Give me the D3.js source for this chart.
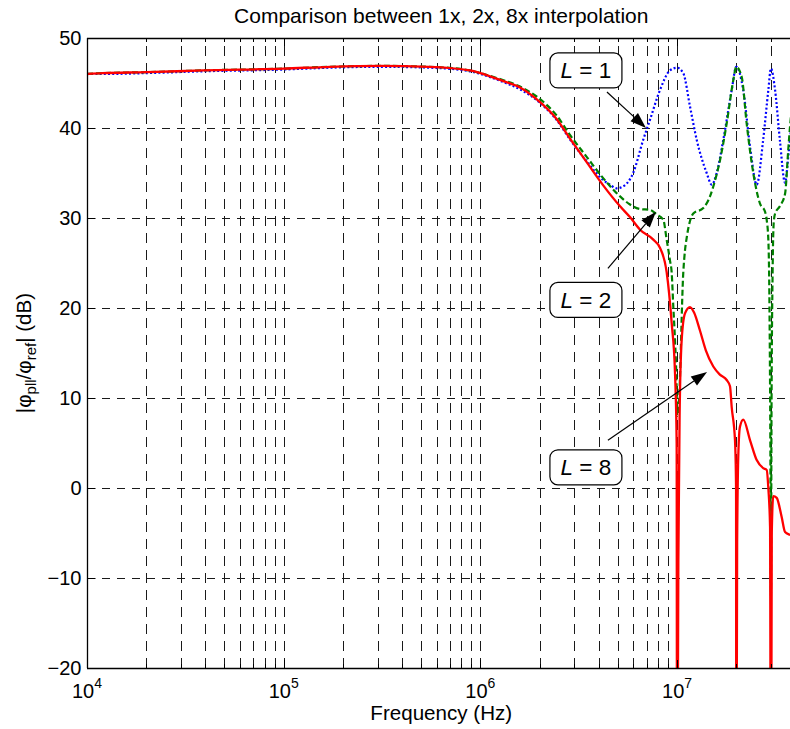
<!DOCTYPE html>
<html>
<head>
<meta charset="utf-8">
<script src="https://cdn.jsdelivr.net/npm/d3@7"></script>
<style>
  html, body { margin: 0; padding: 0; background: #fff; }
  svg { display: block; font-family: "Liberation Sans", Arial, Helvetica, sans-serif; }
</style>
</head>
<body>
<svg id="chart" width="790" height="729"></svg>
<script>
// Closed-loop phase-noise transfer |phi_pll / phi_ref| in dB versus frequency (Hz)
// for interpolation factors L = 1, 2 and 8.

const freqL1 = [1e4, 1.2e4, 2e4, 3.9e4, 1e5, 1.72e5, 3.1e5, 5.5e5, 8.85e5, 1e6, 1.31e6, 1.59e6,
  1.93e6, 2.44e6, 2.86e6, 3.47e6, 4.22e6, 4.56e6, 4.93e6, 5.4e6, 5.98e6, 6.73e6, 7.28e6, 8.18e6,
  9.2e6, 1e7, 1.075e7, 1.163e7, 1.258e7, 1.414e7, 1.5e7, 1.59e7, 1.718e7, 1.895e7, 2e7, 2.17e7,
  2.35e7, 2.54e7, 2.74e7, 2.91e7, 3e7, 3.15e7, 3.33e7, 3.54e7, 3.675e7, 3.75e7, 4e7];
const dbL1 = [46.0, 46.0, 46.1, 46.3, 46.5, 46.7, 46.8, 46.7, 46.3, 46.0, 45.1, 44.3,
  43.1, 40.9, 38.7, 36.3, 34.2, 33.7, 33.3, 33.6, 35.0, 38.7, 40.9, 44.2,
  46.4, 46.7, 46.1, 42.4, 38.7, 35.0, 33.7, 35.0, 38.7, 44.2, 46.8, 44.2,
  37.9, 33.7, 38.7, 44.2, 46.6, 44.2, 38.7, 33.9, 36.8, 38.7, 44.0];

const freqL2 = [1e4, 1.2e4, 2e4, 3.9e4, 1e5, 1.72e5, 3.1e5, 5.5e5, 8.85e5, 1e6, 1.31e6, 1.59e6,
  1.93e6, 2.44e6, 2.86e6, 3.47e6, 4.22e6, 5.13e6, 5.76e6, 6.48e6, 7.28e6, 7.87e6, 8.51e6, 8.85e6,
  9.2e6, 9.39e6, 9.57e6, 9.76e6, 9.95e6, 1e7, 1.023e7, 1.075e7, 1.097e7, 1.119e7, 1.209e7, 1.359e7,
  1.47e7, 1.528e7, 1.652e7, 1.787e7, 1.931e7, 2e7, 2.13e7, 2.258e7, 2.44e7, 2.64e7, 2.8e7, 2.855e7,
  2.91e7, 2.95e7, 2.98e7, 3e7, 3.02e7, 3.06e7, 3.1e7, 3.15e7, 3.33e7, 3.54e7, 3.675e7, 3.75e7, 4e7];
const dbL2 = [46.0, 46.1, 46.2, 46.4, 46.6, 46.8, 46.9, 46.8, 46.4, 46.1, 45.3, 44.6,
  43.5, 41.4, 39.2, 36.8, 34.4, 32.4, 31.5, 31.0, 30.9, 30.4, 29.8, 27.6,
  25.3, 23.9, 20.1, 16.4, 10.9, 8.0, 9.8, 23.9, 26.4, 27.8, 30.5, 31.1,
  32.4, 33.5, 36.4, 40.5, 45.3, 46.8, 45.7, 40.5, 35.0, 31.6, 30.7, 29.8,
  27.6, 20.0, 5.0, -12.0, 8.0, 24.0, 29.5, 30.5, 31.3, 32.7, 37.6, 40.1, 45.0];

const freqL8 = [1e4, 1.2e4, 2e4, 3.9e4, 1e5, 1.72e5, 3.1e5, 5.5e5, 8.85e5, 1e6, 1.31e6, 1.59e6,
  1.93e6, 2.44e6, 2.86e6, 3.47e6, 4.22e6, 5.13e6, 5.76e6, 6.48e6, 7.57e6, 8.18e6, 8.85e6, 9.39e6,
  9.76e6, 9.95e6, 1e7, 1.015e7, 1.03e7, 1.055e7, 1.097e7, 1.163e7, 1.22e7, 1.307e7, 1.4e7, 1.528e7,
  1.65e7, 1.787e7, 1.858e7, 1.895e7, 1.97e7, 1.995e7, 2e7, 2.02e7, 2.05e7, 2.088e7, 2.17e7, 2.35e7,
  2.54e7, 2.74e7, 2.855e7, 2.91e7, 2.97e7, 3e7, 3.03e7, 3.083e7, 3.21e7, 3.4e7, 3.54e7, 3.75e7, 4e7];
const dbL8 = [46.0, 46.1, 46.2, 46.4, 46.6, 46.8, 46.9, 46.8, 46.4, 46.1, 45.2, 44.5,
  43.2, 41.0, 38.8, 36.2, 33.6, 31.3, 30.1, 28.7, 27.6, 26.7, 24.0, 18.3,
  12.8, 5.0, -45.0, -8.0, 8.0, 16.4, 19.4, 20.1, 19.5, 17.5, 15.3, 13.5,
  12.6, 12.0, 11.3, 9.0, 5.3, 0.0, -45.0, -6.0, 4.0, 6.8, 7.6, 5.3,
  3.1, 2.2, 2.0, 0.0, -4.3, -45.0, -5.0, -0.9, -1.1, -3.2, -4.9, -5.2, -5.4];

// Axis ticks
const yTicks = [-20, -10, 0, 10, 20, 30, 40, 50];
const xTickExponents = [4, 5, 6, 7];

// Callouts: label, box centre, arrow tail and arrow tip (Hz, dB)
const calloutLabels = ["1", "2", "8"];
const calloutBoxFreq = [3.44e6, 3.44e6, 3.44e6];
const calloutBoxDb = [46.4, 20.9, 2.3];
const calloutTailFreq = [4.4e6, 4.45e6, 4.45e6];
const calloutTailDb = [44.0, 24.4, 5.3];
const calloutTipFreq = [6.95e6, 7.81e6, 1.42e7];
const calloutTipDb = [40.0, 30.7, 12.9];

const svg = d3.select("#chart");
const area = { left: 87, top: 38, right: 795.5, bottom: 668 };

const x = d3.scaleLog().domain([1e4, 4e7]).range([area.left, area.right]);
const y = d3.scaleLinear().domain([-20, 50]).range([area.bottom, area.top]);

svg.append("rect").attr("width", 790).attr("height", 729).attr("fill", "#fff");

svg.append("defs").append("clipPath").attr("id", "plotClip")
  .append("rect")
  .attr("x", area.left).attr("y", area.top)
  .attr("width", area.right - area.left).attr("height", area.bottom - area.top);

// Grid
const gridFreqs = x.ticks().filter(f => f > 1e4 && f < 4e7);
const grid = svg.append("g").attr("stroke", "#1a1a1a").attr("stroke-width", 1).attr("fill", "none");
grid.selectAll("line.v").data(gridFreqs).join("line")
  .attr("class", "v")
  .attr("x1", d => Math.round(x(d)) + 0.5).attr("x2", d => Math.round(x(d)) + 0.5)
  .attr("y1", area.bottom).attr("y2", area.top)
  .attr("stroke-dasharray", "10,7");
grid.selectAll("line.h").data(yTicks.filter(v => v > -20 && v < 50)).join("line")
  .attr("class", "h")
  .attr("y1", d => Math.round(y(d)) + 0.5).attr("y2", d => Math.round(y(d)) + 0.5)
  .attr("x1", area.left).attr("x2", area.right)
  .attr("stroke-dasharray", "8,7");

// Curves
const line = (fs, ds) => d3.line()
  .x((d, i) => x(fs[i]))
  .y(d => y(d))
  .curve(d3.curveMonotoneX)(ds);

const curves = svg.append("g").attr("clip-path", "url(#plotClip)").attr("fill", "none");
curves.append("path").attr("d", line(freqL1, dbL1))
  .attr("stroke", "#0000ff").attr("stroke-width", 2.2).attr("stroke-dasharray", "2,2.2");
curves.append("path").attr("d", line(freqL2, dbL2))
  .attr("stroke", "#008000").attr("stroke-width", 2.2).attr("stroke-dasharray", "6,3");
curves.append("path").attr("d", line(freqL8, dbL8))
  .attr("stroke", "#ff0000").attr("stroke-width", 2.3);

// Axes frame and ticks
const axes = svg.append("g").attr("stroke", "#000").attr("fill", "none").attr("stroke-width", 1);
axes.append("line").attr("x1", area.left + 0.5).attr("x2", area.left + 0.5)
  .attr("y1", area.top).attr("y2", area.bottom).attr("stroke-width", 1.3);
axes.append("line").attr("x1", area.left).attr("x2", 790)
  .attr("y1", area.bottom + 0.5).attr("y2", area.bottom + 0.5).attr("stroke-width", 1.3);
axes.append("line").attr("x1", area.left).attr("x2", 790)
  .attr("y1", area.top + 0.5).attr("y2", area.top + 0.5).attr("stroke-width", 1.3);

const majorFreqs = xTickExponents.map(e => Math.pow(10, e));
const allTickFreqs = x.ticks().filter(f => f >= 1e4 && f <= 4e7);
axes.selectAll("line.tb").data(allTickFreqs).join("line")
  .attr("class", "tb")
  .attr("x1", d => Math.round(x(d)) + 0.5).attr("x2", d => Math.round(x(d)) + 0.5)
  .attr("y1", area.bottom).attr("y2", d => area.bottom - (majorFreqs.includes(d) ? 8 : 4));
axes.selectAll("line.tt").data(allTickFreqs).join("line")
  .attr("class", "tt")
  .attr("x1", d => Math.round(x(d)) + 0.5).attr("x2", d => Math.round(x(d)) + 0.5)
  .attr("y1", area.top).attr("y2", d => area.top + (majorFreqs.includes(d) ? 8 : 4));

// Y axis
const yAxis = d3.axisLeft(y).tickValues(yTicks).tickSize(-8).tickPadding(6).tickFormat(d3.format("d"));
const gy = svg.append("g").attr("transform", `translate(${area.left + 0.5},0)`).call(yAxis);
gy.select(".domain").remove();
gy.selectAll(".tick line").attr("stroke", "#000");
gy.selectAll(".tick text")
  .attr("font-family", "'Liberation Sans', Arial, Helvetica, sans-serif")
  .attr("font-size", 20).attr("fill", "#000");

// X tick labels: powers of ten
const xl = svg.append("g").attr("fill", "#000");
xTickExponents.forEach(e => {
  const t = xl.append("text")
    .attr("x", x(Math.pow(10, e))).attr("y", 698)
    .attr("text-anchor", "middle").attr("font-size", 20);
  t.append("tspan").text("10");
  t.append("tspan").attr("font-size", 14).attr("dy", -10).text(String(e));
});

// Title and axis labels
svg.append("text").attr("x", (area.left + area.right) / 2).attr("y", 23)
  .attr("text-anchor", "middle").attr("font-size", 21).attr("fill", "#000")
  .text("Comparison between 1x, 2x, 8x interpolation");

svg.append("text").attr("x", (area.left + area.right) / 2).attr("y", 720)
  .attr("text-anchor", "middle").attr("font-size", 20.6).attr("fill", "#000")
  .text("Frequency (Hz)");

const ylab = svg.append("text")
  .attr("transform", `translate(31,${(area.top + area.bottom) / 2}) rotate(-90)`)
  .attr("text-anchor", "middle").attr("font-size", 20.6).attr("fill", "#000");
ylab.append("tspan").text("|\u03c6");
ylab.append("tspan").attr("font-size", 15).attr("dy", 5).text("pll");
ylab.append("tspan").attr("dy", -5).text("/\u03c6");
ylab.append("tspan").attr("font-size", 15).attr("dy", 5).text("ref");
ylab.append("tspan").attr("dy", -5).text("| (dB)");

// Callouts
const callouts = svg.append("g");
calloutLabels.forEach((lab, i) => {
  const bx = x(calloutBoxFreq[i]), by = y(calloutBoxDb[i]);
  const tx = x(calloutTailFreq[i]), ty = y(calloutTailDb[i]);
  const px = x(calloutTipFreq[i]), py = y(calloutTipDb[i]);
  const ang = Math.atan2(py - ty, px - tx);
  const headLen = 16, headHalf = 5.5;
  const baseX = px - headLen * Math.cos(ang), baseY = py - headLen * Math.sin(ang);
  callouts.append("line")
    .attr("x1", tx).attr("y1", ty).attr("x2", baseX).attr("y2", baseY)
    .attr("stroke", "#000").attr("stroke-width", 1.2);
  const nx = -Math.sin(ang) * headHalf, ny = Math.cos(ang) * headHalf;
  callouts.append("path")
    .attr("d", `M${px},${py}L${baseX + nx},${baseY + ny}L${baseX - nx},${baseY - ny}Z`)
    .attr("fill", "#000");
  callouts.append("rect")
    .attr("x", bx - 36).attr("y", by - 17.5).attr("width", 72).attr("height", 35)
    .attr("rx", 8).attr("fill", "#fff").attr("stroke", "#000").attr("stroke-width", 1.2);
  const t = callouts.append("text").attr("x", bx).attr("y", by + 8)
    .attr("text-anchor", "middle").attr("font-size", 22.5).attr("fill", "#000");
  t.append("tspan").attr("font-style", "italic").text("L");
  t.append("tspan").text(" = " + lab);
});
</script>
</body>
</html>
